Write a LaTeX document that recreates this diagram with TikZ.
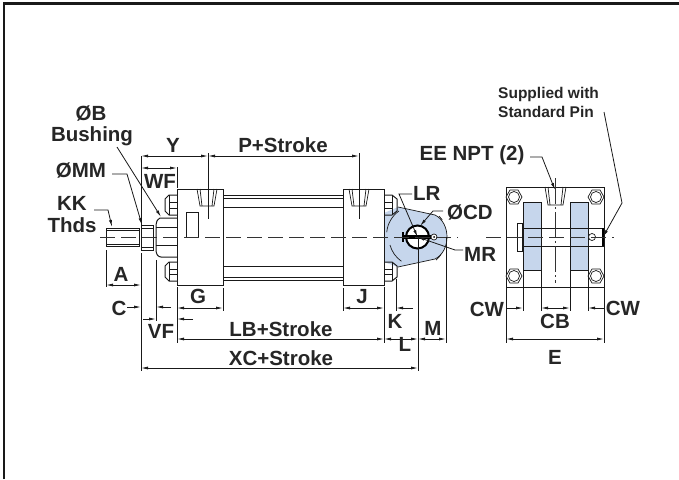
\documentclass[tikz,border=0pt]{standalone}
\usepackage{fontspec}
\setmainfont{Liberation Sans}
\usetikzlibrary{arrows.meta}
\definecolor{pinblue}{HTML}{C6D6EC}
\tikzset{
  lab/.style={inner sep=0pt,font=\fontsize{20.5}{22}\selectfont\bfseries,text=black!85},
  smalllab/.style={inner sep=0pt,anchor=west,font=\fontsize{15.5}{17}\selectfont\bfseries,text=black!85},
  part/.style={line width=1pt,draw=black!90},
  thin part/.style={line width=0.7pt,draw=black!90},
  extline/.style={line width=0.7pt,draw=black!90},
  dim/.style={line width=0.8pt,draw=black!90,{Latex[length=7pt,width=3pt]}-{Latex[length=7pt,width=3pt]}},
  dimin/.style={line width=0.8pt,draw=black!90,-{Latex[length=7pt,width=3pt]}},
  leader/.style={line width=0.8pt,draw=black!90,-{Latex[length=7pt,width=3pt]}},
  cline/.style={line width=0.8pt,draw=black!80,dash pattern=on 15pt off 6pt},
  vcline/.style={line width=0.7pt,draw=black!80,dash pattern=on 26pt off 3pt on 2pt off 3pt},
}
\begin{document}
\begin{tikzpicture}[x=1pt,y=-1pt]
\useasboundingbox (0,0) rectangle (679,479);
\fill[white] (0,0) rectangle (679,479);
\draw[line width=2.5pt,black!90] (4,479) -- (4,3.7) -- (679,3.7);
% ===== clevis (blue)
\fill[pinblue] (384,213) -- (398,207) -- (435,215)
  .. controls (443,219) and (447,228) .. (447,237)
  .. controls (447,246) and (443,255) .. (435,259) -- (398,267) -- (384,262) -- cycle;
\draw[thin part] (398,207) -- (435,215) .. controls (443,219) and (447,228) .. (447,237)
  .. controls (447,246) and (443,255) .. (435,259) -- (398,267);
% ===== rod
\draw[part] (106,228) rectangle (139,246);
\draw[thin part] (106,230) -- (139,230) (106,244) -- (139,244);
\draw[part] (141,225) rectangle (153,250);
\draw[thin part] (141,228) -- (153,228) (141,247) -- (153,247);
\draw[part] (177,218) -- (160,218) .. controls (157,220) and (156,222) .. (156,225) -- (156,250)
  .. controls (156,254) and (158,257) .. (161,257) -- (177,257);
\draw[part] (156,227) -- (177,227) (156,245) -- (177,245);
% ===== nuts, head
\foreach \ya/\yb in {195/215,262/281}{
  \draw[part] (177,\ya) -- (169,\ya) -- (165,\ya+4) -- (165,\yb-4) -- (169,\yb) -- (177,\yb);
  \draw[thin part] (169,\ya) -- (169,\yb);
  \draw[thin part] (169,\ya+7) -- (177,\ya+7) (169,\yb-7) -- (177,\yb-7);
  \draw[part] (384,\ya) -- (392,\ya) -- (397,\ya+4) -- (397,\yb-4) -- (392,\yb) -- (384,\yb);
  \draw[thin part] (392,\ya) -- (392,\yb);
  \draw[thin part] (384,\ya+7) -- (392,\ya+7) (384,\yb-7) -- (392,\yb-7);
}
\draw[part,fill=white] (177,189) rectangle (223,285);
\draw[part,fill=white] (343,189) rectangle (384,285);
\draw[part] (186,212) rectangle (198,237);
% ports
\foreach \x in {207,359}{
  \draw[thin part] (\x-10,189) -- (\x-7,206) -- (\x+7,206) -- (\x+10,189);
  \draw[thin part] (\x-7,189) -- (\x-5,206) (\x+7,189) -- (\x+5,206);
}
% tube, tie rods
\draw[part] (223,195) -- (343,195) (223,198) -- (343,198) (223,207) -- (343,207);
\draw[part] (223,266) -- (343,266) (223,277) -- (343,277) (223,280) -- (343,280);
% ===== pin and bore
\fill[white,draw=black,line width=2pt] (417.5,237) circle (11.5);
\fill[black] (402,235) rectangle (431,238.5);
\draw[line width=1.2pt] (403,232) -- (403,242);
\draw[thin part,fill=white] (434,237) circle (3);
\fill[black] (434,237) circle (1);
% LR and clevis arcs
\draw[thin part] (399,211) arc[start angle=235,end angle=185,radius=29];
\draw[thin part] (390,245) arc[start angle=165,end angle=125,radius=29];
\draw[thin part] (439,216) arc[start angle=-45,end angle=-35,radius=29];
\draw[thin part] (436,260) arc[start angle=50,end angle=35,radius=29];
% ===== centre lines
\draw[cline] (100,237) -- (458,237);
\draw[line width=0.7pt,black!90] (208,153) -- (208,219);
\draw[line width=0.7pt,black!90] (359,153) -- (359,219);
% ===== extension lines
\draw[extline] (141,156) -- (141,225) (141,253) -- (141,371);
\draw[extline] (177,167) -- (177,188) (177,287) -- (177,343);
\draw[extline] (106,250) -- (106,287);
\draw[extline] (156,260) -- (156,321);
\draw[extline] (223,288) -- (223,311);
\draw[extline] (343,288) -- (343,311);
\draw[extline] (384,287) -- (384,343);
\draw[extline] (396,279) -- (396,311);
\draw[extline] (418,237) -- (418,371);
\draw[extline] (446,237) -- (446,343);
% ===== dimensions
\draw[dim] (141,156) -- (208,156);
\draw[dim] (208,156) -- (359,156);
\draw[dim] (141,168) -- (177,168);
\draw[dim] (106,285) -- (141,285);
\draw[dimin] (127,307) -- (141,307);
\draw[dimin] (171,307) -- (156,307);
\draw[dimin] (143,319) -- (156,319);
\draw[dimin] (193,319) -- (177,319);
\draw[dim] (177,308) -- (223,308);
\draw[dim] (343,308) -- (384,308);
\draw[dimin] (413,308) -- (396,308);
\draw[dim] (177,339) -- (384,339);
\draw[dim] (384,339) -- (418,339);
\draw[dim] (418,339) -- (446,339);
\draw[dim] (141,368) -- (418,368);
% ===== end view
\draw[part,fill=white] (506,187) rectangle (604,287);
\fill[pinblue] (523,202) rectangle (541,270) (570,202) rectangle (588,270);
\draw[thin part] (523,202) rectangle (541,270) (570,202) rectangle (588,270);
\draw[part] (523,228) rectangle (603,246);
\fill[white] (541.5,228.6) rectangle (569.5,245.4);
\draw[line width=1.6pt] (603,228) -- (603,246);
\draw[part,fill=white] (517,223) rectangle (522,251);
\draw[thin part,fill=white] (592,237) circle (3.5);
\foreach \cx/\cy in {514/197,596/197,514/276,596/276}{
  \draw[thin part,fill=white] (\cx-8,\cy) -- (\cx-4,\cy-7) -- (\cx+4,\cy-7) -- (\cx+8,\cy) -- (\cx+4,\cy+7) -- (\cx-4,\cy+7) -- cycle;
  \draw[thin part] (\cx,\cy) circle (5.5);
}
\draw[thin part] (545,187) -- (548,205) -- (563,205) -- (566,187);
\draw[thin part] (548,187) -- (550,205) (563,187) -- (561,205);
\draw[cline] (486,237) -- (614,237);
\draw[vcline] (555,178) -- (555,283);
\draw[extline] (523,270) -- (523,311) (541,270) -- (541,311) (570,270) -- (570,311) (588,270) -- (588,311);
\draw[extline] (506,287) -- (506,343) (604,287) -- (604,343);
\draw[dimin] (506,308) -- (523,308);
\draw[dim] (541,308) -- (570,308);
\draw[dimin] (604,308) -- (588,308);
\draw[dim] (506,339) -- (604,339);
% ===== labels
\node[lab] (lbB) at (91,113) {ØB};
\node[lab] (lbBush) at (92,136) {Bushing};
\node[lab] (lbMM) at (81,170) {ØMM};
\node[lab] (lbKK) at (72,203) {KK};
\node[lab] (lbThds) at (72,225) {Thds};
\node[lab] (lbY) at (173,145) {Y};
\node[lab] (lbWF) at (160,181) {WF};
\node[lab] (lbP) at (283,145) {P+Stroke};
\node[lab,anchor=west] (lbLR) at (413,193) {LR};
\node[lab,anchor=west] (lbCD) at (447,212) {ØCD};
\node[lab,anchor=west] (lbMR) at (464,254) {MR};
\node[lab] (lbA) at (121,274) {A};
\node[lab] (lbC) at (119,308) {C};
\node[lab] (lbVF) at (161,331) {VF};
\node[lab] (lbG) at (198,296) {G};
\node[lab] (lbJ) at (362,297) {J};
\node[lab] (lbK) at (395,321) {K};
\node[lab] (lbL) at (405,344) {L};
\node[lab] (lbM) at (433,328) {M};
\node[lab] (lbLB) at (281,329) {LB+Stroke};
\node[lab] (lbXC) at (281,358) {XC+Stroke};
\node[lab] (lbEE) at (472,155) {EE NPT (2)};
\node[smalllab] (lbSup) at (498,94) {Supplied with};
\node[smalllab] (lbStd) at (498,112) {Standard Pin};
\node[lab] (lbCWa) at (487,309) {CW};
\node[lab] (lbCWb) at (623,308) {CW};
\node[lab] (lbCB) at (555,321) {CB};
\node[lab] (lbE) at (555,357) {E};
% ===== leaders
\coordinate (tBush) at (161,217);
\coordinate (tMM) at (142,225);
\coordinate (tKK) at (112,227);
\coordinate (tEE) at (555,190);
\coordinate (tPin) at (603,237);
\coordinate (cBore) at (417.5,237);
\draw[leader] (117,147) -- (tBush);
\draw[leader] (112,174) -- (127,174) -- (tMM);
\draw[leader] (94,210) -- (108,210) -- (tKK);
\draw[leader] (530,157) -- (542,157) -- (tEE);
\draw[leader] (604,112) -- (622,203) -- (tPin);
\draw[leader] (412,194) -- (399,194) -- (cBore);
\draw[leader] (443,211) -- (433,211) -- (420,226);
\draw[leader] (463,250) -- (455,250) -- (cBore);
\end{tikzpicture}
\end{document}
